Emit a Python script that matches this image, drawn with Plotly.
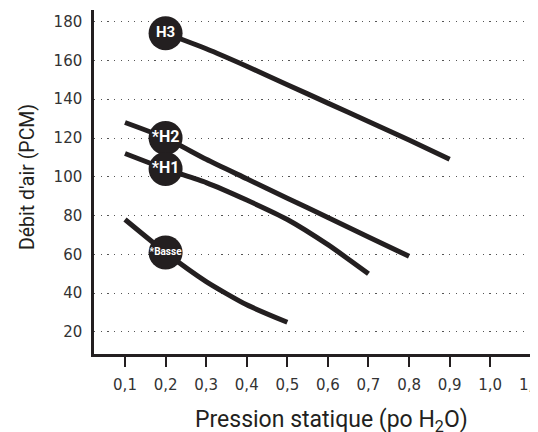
import plotly.graph_objects as go

h3_x = [0.2, 0.3, 0.4, 0.5, 0.6, 0.7, 0.8, 0.9]
h3_y = [174, 166, 157, 147.5, 138, 128.5, 119, 109]

h2_x = [0.1, 0.2, 0.3, 0.4, 0.5, 0.6, 0.7, 0.8]
h2_y = [128, 120, 109, 99, 89, 79, 69, 59]

h1_x = [0.1, 0.2, 0.3, 0.4, 0.5, 0.6, 0.7]
h1_y = [112, 104, 97, 88, 78, 65, 50]

basse_x = [0.1, 0.2, 0.3, 0.4, 0.5]
basse_y = [78, 61, 46, 34, 25]

label_names = ["H3", "*H2", "*H1", "*Basse"]
label_x = [0.2, 0.2, 0.2, 0.2]
label_y = [174, 120, 104, 61]
label_sizes = [15, 16, 16, 10]

x_tickvals = [0.1, 0.2, 0.3, 0.4, 0.5, 0.6, 0.7, 0.8, 0.9, 1.0, 1.1]
x_ticktext = ["0,1", "0,2", "0,3", "0,4", "0,5", "0,6", "0,7", "0,8", "0,9", "1,0", "1,1"]
y_tickvals = [20, 40, 60, 80, 100, 120, 140, 160, 180]
y_ticktext = ["20", "40", "60", "80", "100", "120", "140", "160", "180"]

x_title = "Pression statique (po H<sub>2</sub>O)"
y_title = "Débit d'air (PCM)"

DARK = "#231f20"
FONT = "DejaVu Sans"
TFONT = "Roboto"

fig = go.Figure()
for xs, ys in [(h3_x, h3_y), (h2_x, h2_y), (h1_x, h1_y), (basse_x, basse_y)]:
    fig.add_trace(go.Scatter(
        x=xs, y=ys, mode="lines",
        line=dict(color=DARK, width=5, shape="spline", smoothing=0.6),
        hoverinfo="skip", showlegend=False,
    ))

fig.add_trace(go.Scatter(
    x=label_x, y=label_y, mode="markers+text",
    marker=dict(size=34, color=DARK),
    text=["<b>%s</b>" % n for n in label_names],
    textposition="middle center",
    textfont=dict(family=TFONT, color="white", size=label_sizes),
    showlegend=False, cliponaxis=False, hoverinfo="skip",
))

# page body has an 8px margin: figure is offset so the plot lands where the reference has it
fig.update_layout(
    width=530, height=424,
    margin=dict(l=86, r=7, t=2, b=78),
    paper_bgcolor="white", plot_bgcolor="white",
    font=dict(family=FONT, color="#333333"),
    annotations=[
        dict(text=x_title, xref="paper", yref="paper", x=0.5446, y=0,
             xanchor="center", yanchor="top", yshift=-50, showarrow=False,
             font=dict(family=TFONT, size=23, color=DARK)),
        dict(text=y_title, xref="paper", yref="paper", x=-0.152, y=0.513,
             xanchor="center", yanchor="middle", textangle=-90, showarrow=False,
             font=dict(family=TFONT, size=19.5, color=DARK)),
    ],
)
fig.update_xaxes(
    range=[0.0236, 1.1005], automargin=False,
    tickvals=x_tickvals, ticktext=x_ticktext,
    ticks="outside", ticklen=10, tickwidth=1.5, tickcolor=DARK,
    tickfont=dict(size=15, color="#333333"),
    ticklabelstandoff=5, ticklabeloverflow="allow",
    showline=True, linewidth=2.5, linecolor=DARK,
    showgrid=False, zeroline=False,
)
fig.update_yaxes(
    range=[8.65, 186], automargin=False,
    tickvals=y_tickvals, ticktext=y_ticktext,
    ticks="", tickfont=dict(size=15, color="#333333"),
    ticklabelstandoff=6,
    showline=True, linewidth=2.5, linecolor=DARK,
    showgrid=True, gridcolor="#555555", gridwidth=1.2, griddash="1.2px,5.5px",
    zeroline=False,
)

fig.write_html("out.html")
